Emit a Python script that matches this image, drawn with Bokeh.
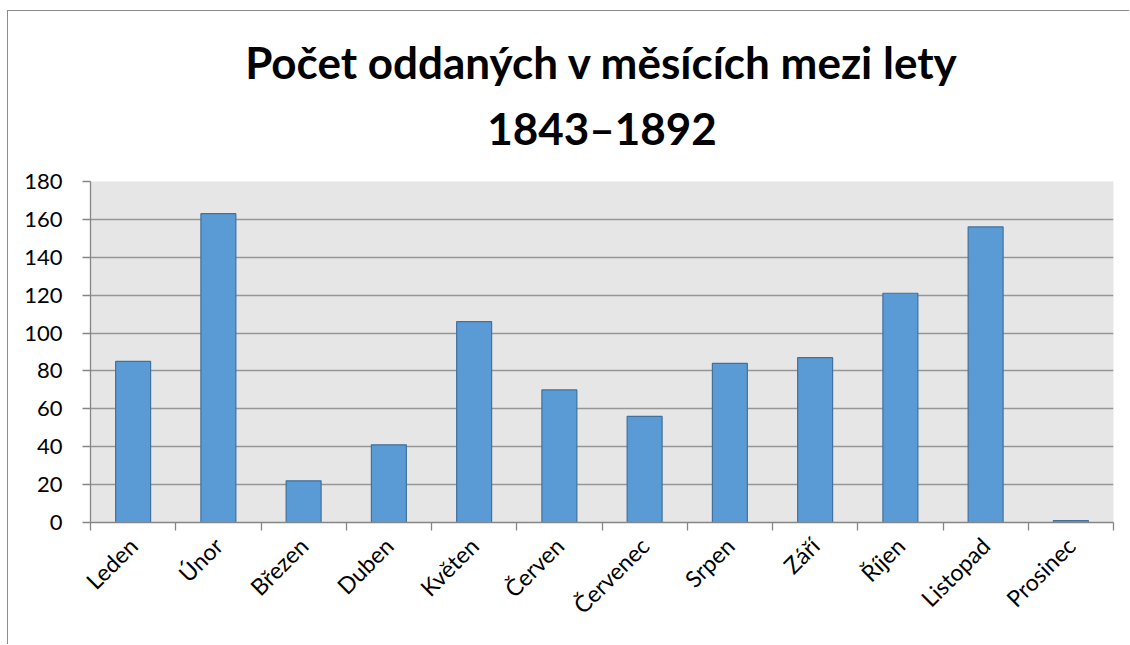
from bokeh.plotting import figure
from bokeh.models import ColumnDataSource, FixedTicker, Range1d, Title
from bokeh.embed import file_html
from bokeh.resources import INLINE
import math

months = ["Leden", "Únor", "Březen", "Duben", "Květen", "Červen",
          "Červenec", "Srpen", "Září", "Říjen", "Listopad", "Prosinec"]
counts = [85, 163, 22, 41, 106, 70, 56, 84, 87, 121, 156, 1]
title_lines = ["Počet oddaných v měsících mezi lety", "1843–1892"]
y_ticks = [0, 20, 40, 60, 80, 100, 120, 140, 160, 180]

n = len(months)
centers = [i + 0.5 for i in range(n)]
source = ColumnDataSource(dict(x=centers, top=counts, month=months))

p = figure(width=1122, height=634, output_backend="svg", toolbar_location=None,
           x_range=Range1d(0, n), y_range=Range1d(0, 180),
           min_border_left=82, min_border_right=17, min_border_top=170,
           min_border_bottom=123)

p.styles = {"border-left": "1px solid #8c8c8c", "border-top": "1px solid #8c8c8c",
            "margin-left": "7px", "margin-top": "10px"}

# titles: first added sits closest to the frame
t2 = Title(text=title_lines[1], align="center", text_font="Lato",
           text_font_size="44px", text_font_style="bold", text_color="black",
           standoff=56)
t1 = Title(text=title_lines[0], align="center", text_font="Lato",
           text_font_size="44px", text_font_style="bold", text_color="black",
           standoff=-33)
p.add_layout(t2, "above")
p.add_layout(t1, "above")

p.vbar(x="x", top="top", width=0.41, source=source,
       fill_color="#5b9bd5", line_color="#41719c", line_width=1.2)

p.background_fill_color = "#e6e6e6"
p.border_fill_color = "white"
p.outline_line_color = None

p.xgrid.grid_line_color = None
p.ygrid.grid_line_color = "#969696"
p.ygrid.grid_line_width = 1.3
p.ygrid.ticker = FixedTicker(ticks=y_ticks)

ya = p.yaxis[0]
ya.ticker = FixedTicker(ticks=y_ticks)
ya.axis_line_color = "#868686"
ya.axis_line_width = 1.3
ya.major_tick_line_color = "#868686"
ya.major_tick_line_width = 1.3
ya.major_tick_out = 8
ya.major_tick_in = 0
ya.minor_tick_line_color = None
ya.major_label_text_font = "Lato"
ya.major_label_text_font_size = "22px"
ya.major_label_text_color = "black"
ya.major_label_standoff = 20

xa = p.xaxis[0]
xa.ticker = FixedTicker(ticks=centers, minor_ticks=list(range(n + 1)))
xa.major_label_overrides = {c: m for c, m in zip(centers, months)}
xa.axis_line_color = "#868686"
xa.axis_line_width = 1.3
xa.major_tick_line_color = None
xa.minor_tick_line_color = "#868686"
xa.minor_tick_line_width = 1.3
xa.minor_tick_out = 8
xa.minor_tick_in = 0
xa.major_label_orientation = math.pi / 4
xa.major_label_text_font = "Lato"
xa.major_label_text_font_size = "23px"
xa.major_label_text_color = "black"
xa.major_label_standoff = 11

open("out.html", "w").write(file_html(p, INLINE))
